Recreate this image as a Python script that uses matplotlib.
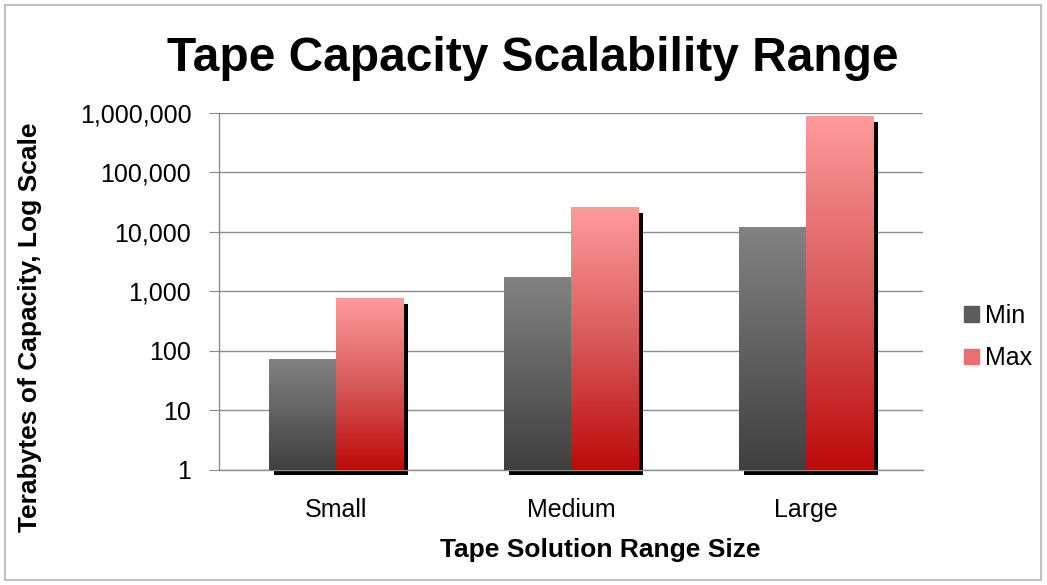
import numpy as np
import matplotlib
matplotlib.use('Agg')
import matplotlib.pyplot as plt
import matplotlib.patheffects as pe
from matplotlib.colors import LinearSegmentedColormap
from matplotlib.patches import Rectangle, Patch
from matplotlib.ticker import FuncFormatter, NullLocator

plt.rcParams['font.family'] = ['Liberation Sans', 'DejaVu Sans']

categories = ['Small', 'Medium', 'Large']
min_tb = [73, 1700, 11800]
max_tb = [750, 25500, 860000]
series_names = ['Min', 'Max']
y_ticks = [1, 10, 100, 1000, 10000, 100000, 1000000]

fig = plt.figure(figsize=(10.47, 5.85), dpi=100)
ax = fig.add_axes([0.2092, 0.1966, 0.6724, 0.6103])

x = np.arange(len(categories))
w = 0.286
shadow = [pe.SimplePatchShadow(offset=(3.6, -3.4), shadow_rgbFace='black', alpha=1.0), pe.Normal()]

bars_min = ax.bar(x - w / 2, np.array(min_tb) - 1, w, bottom=1, color='#606060',
                  clip_on=False, path_effects=shadow, zorder=2)
bars_max = ax.bar(x + w / 2, np.array(max_tb) - 1, w, bottom=1, color='#e06060',
                  clip_on=False, path_effects=shadow, zorder=2)

ax.set_yscale('log')
ax.set_ylim(1, 1e6)
ax.set_xlim(-0.5, 2.5)

# gradient fill for each bar, laid over the plain bars
cm_min = LinearSegmentedColormap.from_list('gmin', ['#404040', '#828282'])
cm_max = LinearSegmentedColormap.from_list('gmax', ['#bd0a0a', '#d85a5a', '#ff9b9b'])
grad = np.linspace(0, 1, 256).reshape(-1, 1)
to_axes = ax.transData + ax.transAxes.inverted()
for bars, cmap in [(bars_min, cm_min), (bars_max, cm_max)]:
    for b in bars:
        x0, y0 = b.get_x(), b.get_y()
        x1, y1 = x0 + b.get_width(), y0 + b.get_height()
        (ax0, ay0), (ax1, ay1) = to_axes.transform([(x0, y0), (x1, y1)])
        ax.imshow(grad, extent=[ax0, ax1, ay0, ay1], origin='lower', cmap=cmap,
                  aspect='auto', transform=ax.transAxes, zorder=3, clip_on=False)

ax.set_yscale('log')
ax.set_ylim(1, 1e6)
ax.set_xlim(-0.5, 2.5)

ax.set_yticks(y_ticks)
ax.yaxis.set_minor_locator(NullLocator())
ax.yaxis.set_major_formatter(FuncFormatter(lambda v, p: f'{v:,.0f}'))
ax.set_xticks(x)
ax.set_xticklabels(categories)
ax.tick_params(axis='y', labelsize=18, length=7, color='#8c8c8c', pad=13, labelcolor='black')
ax.tick_params(axis='x', labelsize=18, length=0, pad=20)

ax.grid(axis='y', color='#8c8c8c', linewidth=1)
ax.set_axisbelow(True)
for s in ['top', 'right']:
    ax.spines[s].set_visible(False)
for s in ['left', 'bottom']:
    ax.spines[s].set_color('#8c8c8c')
    ax.spines[s].set_linewidth(1)

fig.text(0.509, 0.8786, 'Tape Capacity Scalability Range', ha='center', va='baseline',
         fontsize=34.5, fontweight='bold')
fig.text(0.573, 0.048, 'Tape Solution Range Size', ha='center', va='baseline',
         fontsize=19, fontweight='bold')
fig.text(0.029, 0.441, 'Terabytes of Capacity, Log Scale', ha='center', va='center',
         rotation=90, fontsize=19, fontweight='bold')

handles = [Patch(color='#5c5c5c'), Patch(color='#e87070')]
fig.legend(handles, series_names, loc='center left', bbox_to_anchor=(0.9207, 0.424),
           frameon=False, fontsize=18, handlelength=0.6, handleheight=0.6,
           handletextpad=0.25, labelspacing=0.75, borderpad=0, borderaxespad=0)

fig.patches.append(Rectangle((5 / 1047, 5 / 585), 1036 / 1047, 575 / 585, transform=fig.transFigure,
                             fill=False, edgecolor='#c0c0c0', linewidth=1.5))

fig.savefig('out.png', dpi=100)
